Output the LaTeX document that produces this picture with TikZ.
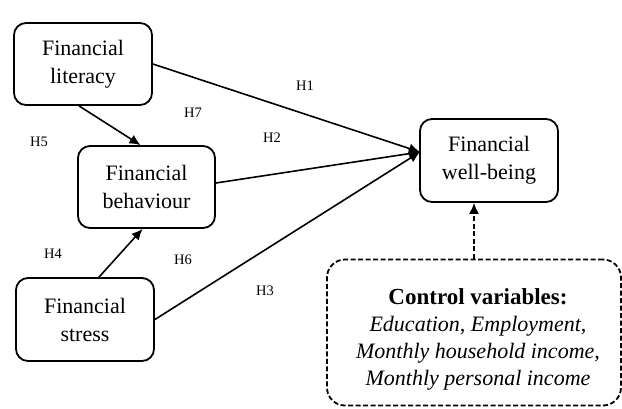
\documentclass[tikz,border=0pt]{standalone}
\usepackage{fontspec}
\setmainfont{Liberation Serif}
\usetikzlibrary{arrows.meta,calc}
\begin{document}
\begin{tikzpicture}[x=1pt,y=-1pt,
  box/.style={draw,line width=1.8pt,rounded corners=12pt,align=center,inner sep=0pt,
    font=\fontsize{22}{28}\selectfont},
  arr/.style={line width=1.6pt,-{Latex[length=11pt,width=10pt]}},
  hlab/.style={font=\fontsize{14.5}{17}\selectfont,inner sep=0pt}]
\useasboundingbox (0,0) rectangle (622,408);
\node[box,minimum width=138pt,minimum height=82pt] (lit) at (83,64) {Financial\\literacy};
\node[box,minimum width=137pt,minimum height=82pt] (beh) at (146.5,187) {Financial\\behaviour};
\node[box,minimum width=138pt,minimum height=83pt] (str) at (85,319.5) {Financial\\stress};
\node[box,minimum width=138pt,minimum height=83pt] (wb) at (489,160.5) {Financial\\well-being};
\node[draw,line width=1.8pt,dash pattern=on 5pt off 2.5pt,rounded corners=18pt,
  minimum width=294pt,minimum height=146pt,inner sep=0pt] (ctrl) at (474,332.5) {};
\node[align=center,inner sep=0pt,font=\fontsize{22}{27}\selectfont] (ctxt) at (478,339)
  {{\fontsize{23}{27}\selectfont\textbf{Control variables:}}\\\textit{Education, Employment,}\\\textit{Monthly household income,}\\\textit{Monthly personal income}};
\coordinate (tip) at (420,152);
\draw[arr] (lit.east) -- (tip);
\draw[arr] ($(beh.east)+(0,-4)$) -- (tip);
\draw[arr] (str.east) -- (tip);
\draw[arr] ($(lit.south)+(-4,0)$) -- ($(beh.north)+(-6,0)$);
\draw[arr] ($(str.north)+(14,0)$) -- ($(beh.south)+(-4,0)$);
\draw[arr,dash pattern=on 5pt off 2.5pt] (ctrl.north) -- (ctrl.north |- wb.south);
\node[hlab] (h1) at (305,86) {H1};
\node[hlab] (h7) at (193,113) {H7};
\node[hlab] (h5) at (39,142) {H5};
\node[hlab] (h2) at (272,138) {H2};
\node[hlab] (h4) at (53,254) {H4};
\node[hlab] (h6) at (183,260) {H6};
\node[hlab] (h3) at (265,291) {H3};
\end{tikzpicture}
\end{document}
